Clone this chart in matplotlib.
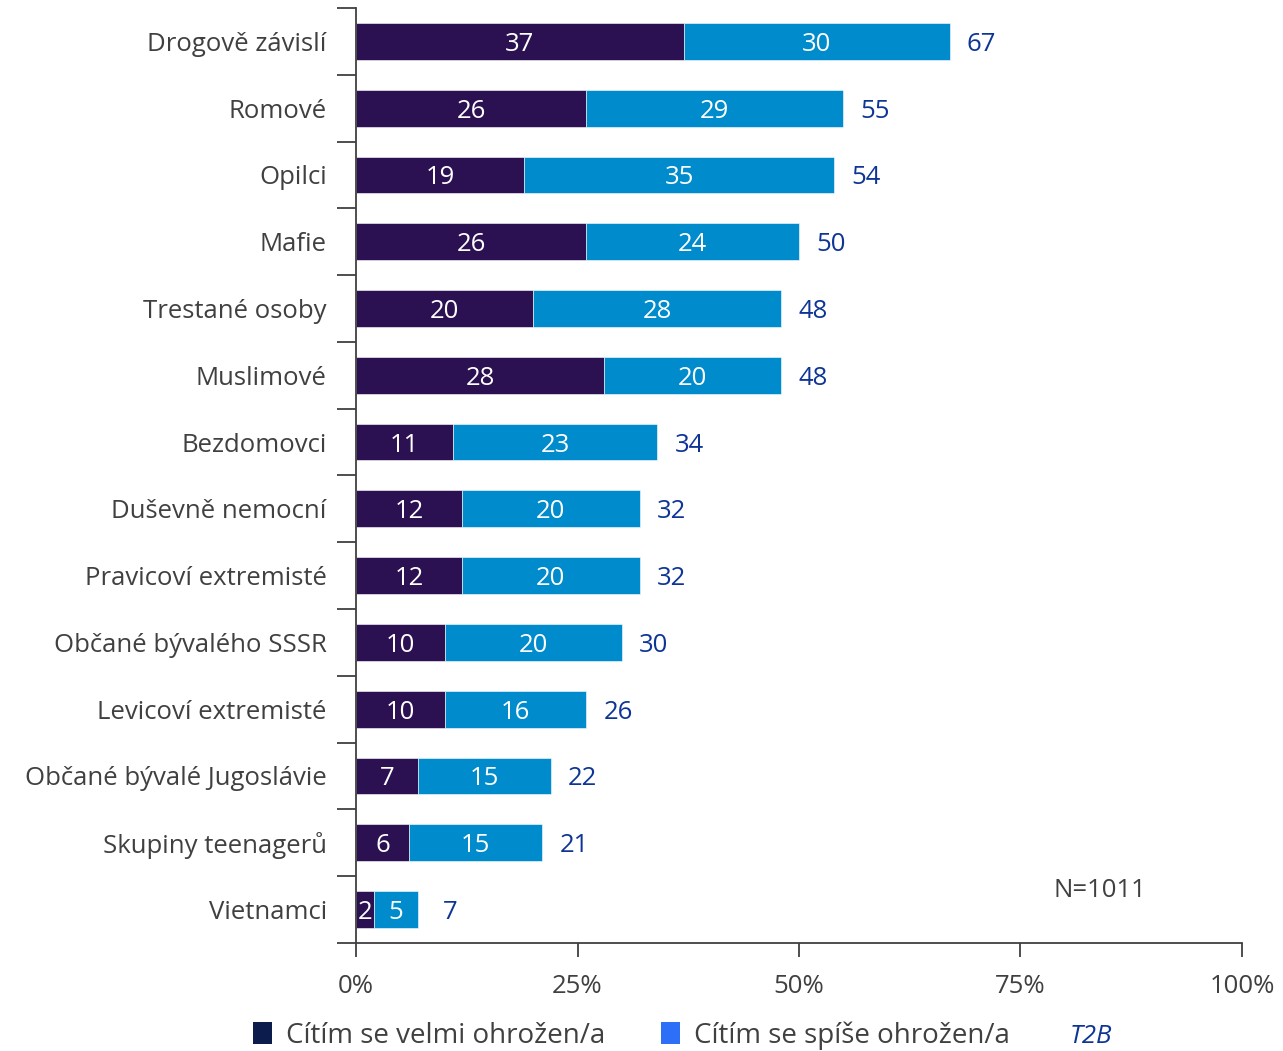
import matplotlib.pyplot as plt
from matplotlib.patches import Patch

plt.rcParams['font.family'] = ['Open Sans', 'DejaVu Sans']

categories = ["Drogově závislí", "Romové", "Opilci", "Mafie", "Trestané osoby",
              "Muslimové", "Bezdomovci", "Duševně nemocní", "Pravicoví extremisté",
              "Občané bývalého SSSR", "Levicoví extremisté", "Občané bývalé Jugoslávie",
              "Skupiny teenagerů", "Vietnamci"]
velmi = [37, 26, 19, 26, 20, 28, 11, 12, 12, 10, 10, 7, 6, 2]
spise = [30, 29, 35, 24, 28, 20, 23, 20, 20, 20, 16, 15, 15, 5]
t2b = [67, 55, 54, 50, 48, 48, 34, 32, 32, 30, 26, 22, 21, 7]
xticks = [0, 25, 50, 75, 100]

dark = "#2b1152"
blue = "#008bcc"
total_col = "#0e3596"
grey = "#404040"
fs = 18.5

fig = plt.figure(figsize=(12.83, 10.51), dpi=100)
ax = fig.add_axes([0.2775, 0.1028, 0.6905, 0.8896])

y = list(range(len(categories)))
ax.barh(y, velmi, height=0.55, color=dark, edgecolor="white", linewidth=0.4)
ax.barh(y, spise, left=velmi, height=0.55, color=blue, edgecolor="white", linewidth=0.4)

for i in y:
    ax.text(velmi[i] / 2, i, str(velmi[i]), ha="center", va="center_baseline",
            color="white", fontsize=fs)
    ax.text(velmi[i] + spise[i] / 2, i, str(spise[i]), ha="center",
            va="center_baseline", color="white", fontsize=fs)
    ax.text(t2b[i] + 3.6, i, str(t2b[i]), ha="center", va="center_baseline",
            color=total_col, fontsize=fs)

ax.set_ylim(len(categories) - 0.5, -0.5)
ax.set_xlim(0, 100)
ax.set_yticks([k - 0.5 for k in range(len(categories) + 1)])
ax.set_yticklabels([])
ax.set_yticks(y, minor=True)
ax.set_yticklabels(categories, minor=True, fontsize=fs, color=grey,
                   va="center_baseline")
ax.tick_params(axis="y", which="minor", length=0, pad=21)
ax.tick_params(axis="y", which="major", length=14, color=grey, width=1.3)
ax.set_xticks(xticks)
ax.set_xticklabels([f"{t}%" for t in xticks], fontsize=fs, color=grey)
ax.tick_params(axis="x", length=10, color=grey, width=1.3, pad=12)

for s in ["top", "right"]:
    ax.spines[s].set_visible(False)
for s in ["left", "bottom"]:
    ax.spines[s].set_color(grey)
    ax.spines[s].set_linewidth(1.3)

ax.text(84, 12.67, "N=1011", ha="center", va="center_baseline", fontsize=fs,
        color=grey)

handles = [Patch(facecolor="#0c1c4c", label="Cítím se velmi ohrožen/a"),
           Patch(facecolor="#2d6ff7", label="Cítím se spíše ohrožen/a")]
leg = fig.legend(handles=handles, loc="center", bbox_to_anchor=(0.492, 0.0145),
                 ncol=2, frameon=False, fontsize=20, handlelength=0.7,
                 handleheight=0.85, handletextpad=0.5, columnspacing=2.0)
for t in leg.get_texts():
    t.set_color(grey)
fig.text(0.85, 0.0135, "T2B", fontsize=fs, color=total_col, style="italic",
         ha="center", va="center")

fig.savefig("out.png", dpi=100)
